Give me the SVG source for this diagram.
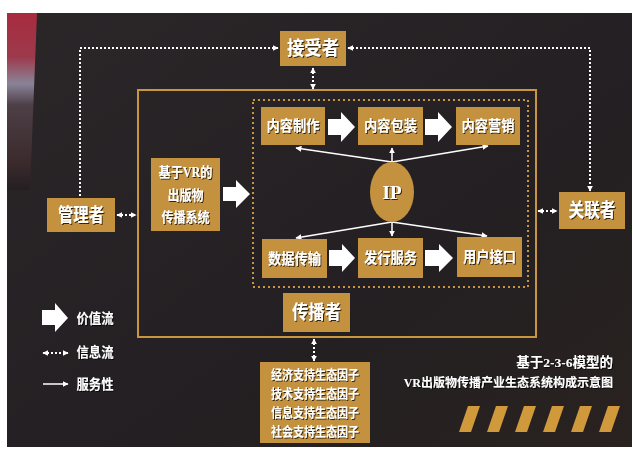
<svg xmlns="http://www.w3.org/2000/svg" width="633" height="451" viewBox="0 0 633 451">
<defs>
<style>
.box{fill:#c4923f}
.t{font-family:"Liberation Serif","Noto Sans CJK SC",serif;font-weight:bold;fill:#fff;text-anchor:middle;dominant-baseline:central;filter:url(#sh)}
.cap{text-anchor:end}
.dot{stroke:#fff;stroke-width:2;stroke-dasharray:2 2;fill:none}
.svc{stroke:#fff;stroke-width:1.5;fill:none}
.big{fill:#fff}
</style>
<filter id="sh" filterUnits="userSpaceOnUse" x="0" y="0" width="633" height="451">
<feDropShadow dx="1" dy="1" stdDeviation="0.6" flood-color="#000" flood-opacity="0.75"/>
</filter>
<marker id="ah" viewBox="0 0 10 10" refX="9" refY="5" markerWidth="6" markerHeight="6" markerUnits="userSpaceOnUse" orient="auto-start-reverse">
<path d="M0,0 L10,5 L0,10 z" fill="#fff"/>
</marker>
<linearGradient id="bg" x1="0" y1="0" x2="1" y2="1">
<stop offset="0" stop-color="#2b2729"/>
<stop offset="0.6" stop-color="#231f22"/>
<stop offset="1" stop-color="#29221f"/>
</linearGradient>
<linearGradient id="strip" x1="0" y1="0" x2="0" y2="1">
<stop offset="0" stop-color="#a82b3e"/>
<stop offset="0.25" stop-color="#9b3a4c"/>
<stop offset="0.4" stop-color="#8a8498"/>
<stop offset="0.52" stop-color="#4d3f46"/>
<stop offset="0.85" stop-color="#3a2a2c"/>
<stop offset="1" stop-color="#241f22"/>
</linearGradient>
</defs>
<rect x="0" y="0" width="633" height="451" fill="#fff"/>
<rect x="7" y="13" width="625" height="434" fill="url(#bg)"/>
<polygon points="7,13 37,13 30,190 7,190" fill="url(#strip)"/>

<rect x="138" y="90" width="398" height="247" fill="none" stroke="#c9963f" stroke-width="2"/>
<rect x="253" y="100" width="275" height="187" fill="none" stroke="#c9963f" stroke-width="2" stroke-dasharray="2 3"/>

<g id="connectors">
<path class="dot" d="M278,48 H80 V206" marker-start="url(#ah)" marker-end="url(#ah)"/>
<path class="dot" d="M348,48 H590 V191" marker-start="url(#ah)" marker-end="url(#ah)"/>
<path class="dot" d="M313,68 V89" marker-start="url(#ah)" marker-end="url(#ah)"/>
<path class="dot" d="M117,215 H136" marker-start="url(#ah)" marker-end="url(#ah)"/>
<path class="dot" d="M538,211 H557" marker-start="url(#ah)" marker-end="url(#ah)"/>
<path class="dot" d="M314,339 V361" marker-start="url(#ah)" marker-end="url(#ah)"/>
<path class="svc" d="M392,162 L296,148" marker-end="url(#ah)"/>
<path class="svc" d="M392,162 L488,146" marker-end="url(#ah)"/>
<path class="svc" d="M392,162 V148" marker-end="url(#ah)"/>
<path class="svc" d="M392,222 L296,238" marker-end="url(#ah)"/>
<path class="svc" d="M392,222 L487,236" marker-end="url(#ah)"/>
<path class="svc" d="M392,222 V236" marker-end="url(#ah)"/>
<polygon class="big" points="223,187 236,187 236,180 250,194 236,208 236,201 223,201"/>
<polygon class="big" points="328,119 341,119 341,112 355,127 341,142 341,135 328,135"/>
<polygon class="big" points="425,119 438,119 438,112 452,127 438,142 438,135 425,135"/>
<polygon class="big" points="329,250 342,250 342,244 355,258 342,272 342,266 329,266"/>
<polygon class="big" points="425,250 439,250 439,244 453,258 439,272 439,266 425,266"/>
</g>

<g id="n-jieshouzhe"><rect class="box" x="280" y="31" width="66" height="35"/><text class="t" x="313" y="48.5" font-size="19" textLength="52" lengthAdjust="spacingAndGlyphs">接受者</text></g>
<g id="n-guanlizhe"><rect class="box" x="47" y="198" width="68" height="34"/><text class="t" x="81" y="215" font-size="19" textLength="46" lengthAdjust="spacingAndGlyphs">管理者</text></g>
<g id="n-guanlianzhe"><rect class="box" x="559" y="192" width="66" height="37"/><text class="t" x="592" y="210.5" font-size="19" textLength="47" lengthAdjust="spacingAndGlyphs">关联者</text></g>
<g id="n-chuanbozhe"><rect class="box" x="283" y="293" width="67" height="39"/><text class="t" x="316.5" y="312.5" font-size="19" textLength="49" lengthAdjust="spacingAndGlyphs">传播者</text></g>
<g id="n-system"><rect class="box" x="151" y="158" width="69" height="73"/>
<text class="t" x="185.5" y="172" font-size="14" textLength="54" lengthAdjust="spacingAndGlyphs">基于VR的</text>
<text class="t" x="185.5" y="195" font-size="14" textLength="36" lengthAdjust="spacingAndGlyphs">出版物</text>
<text class="t" x="185.5" y="217" font-size="14" textLength="48" lengthAdjust="spacingAndGlyphs">传播系统</text></g>
<g id="n-zhizuo"><rect class="box" x="261" y="107" width="64" height="38"/><text class="t" x="293" y="126" font-size="15" textLength="53" lengthAdjust="spacingAndGlyphs">内容制作</text></g>
<g id="n-baozhuang"><rect class="box" x="358" y="107" width="65" height="38"/><text class="t" x="390.5" y="126" font-size="15" textLength="53" lengthAdjust="spacingAndGlyphs">内容包装</text></g>
<g id="n-yingxiao"><rect class="box" x="456" y="107" width="64" height="38"/><text class="t" x="488" y="126" font-size="15" textLength="53" lengthAdjust="spacingAndGlyphs">内容营销</text></g>
<g id="n-ip"><ellipse class="box" cx="392" cy="192" rx="22" ry="30"/><text class="t" x="392" y="192" font-size="19" font-weight="normal">IP</text></g>
<g id="n-shuju"><rect class="box" x="262" y="239" width="65" height="39"/><text class="t" x="294.5" y="258.5" font-size="15" textLength="53" lengthAdjust="spacingAndGlyphs">数据传输</text></g>
<g id="n-faxing"><rect class="box" x="358" y="238" width="65" height="40"/><text class="t" x="390.5" y="258" font-size="15" textLength="53" lengthAdjust="spacingAndGlyphs">发行服务</text></g>
<g id="n-yonghu"><rect class="box" x="457" y="237" width="65" height="40"/><text class="t" x="489.5" y="257" font-size="15" textLength="53" lengthAdjust="spacingAndGlyphs">用户接口</text></g>
<g id="n-yinzi"><rect class="box" x="260" y="362" width="110" height="81"/>
<text class="t" x="315" y="374" font-size="13" textLength="88" lengthAdjust="spacingAndGlyphs">经济支持生态因子</text>
<text class="t" x="315" y="393" font-size="13" textLength="88" lengthAdjust="spacingAndGlyphs">技术支持生态因子</text>
<text class="t" x="315" y="412" font-size="13" textLength="88" lengthAdjust="spacingAndGlyphs">信息支持生态因子</text>
<text class="t" x="315" y="431" font-size="13" textLength="88" lengthAdjust="spacingAndGlyphs">社会支持生态因子</text></g>

<g id="legend">
<polygon class="big" points="42,310 55,310 55,303 68,318 55,332 55,325 42,325"/>
<text class="t" x="95" y="318" font-size="14" textLength="37" lengthAdjust="spacingAndGlyphs">价值流</text>
<path class="dot" d="M43,353 H68" marker-start="url(#ah)" marker-end="url(#ah)"/>
<text class="t" x="95" y="352" font-size="14" textLength="37" lengthAdjust="spacingAndGlyphs">信息流</text>
<path class="svc" d="M43,384 H68" marker-end="url(#ah)"/>
<text class="t" x="95" y="384" font-size="14" textLength="37" lengthAdjust="spacingAndGlyphs">服务性</text>
</g>

<g id="caption">
<text class="t cap" x="613" y="362" font-size="13.5">基于2-3-6模型的</text>
<text class="t cap" x="613" y="383" font-size="12">VR出版物传播产业生态系统构成示意图</text>
</g>

<g id="stripes" fill="#d09a3c">
<polygon points="468,406 480,406 471,432 459,432"/>
<polygon points="496,406 508,406 499,432 487,432"/>
<polygon points="524,406 536,406 527,432 515,432"/>
<polygon points="552,406 564,406 555,432 543,432"/>
<polygon points="580,406 592,406 583,432 571,432"/>
<polygon points="608,406 620,406 611,432 599,432"/>
</g>
</svg>
